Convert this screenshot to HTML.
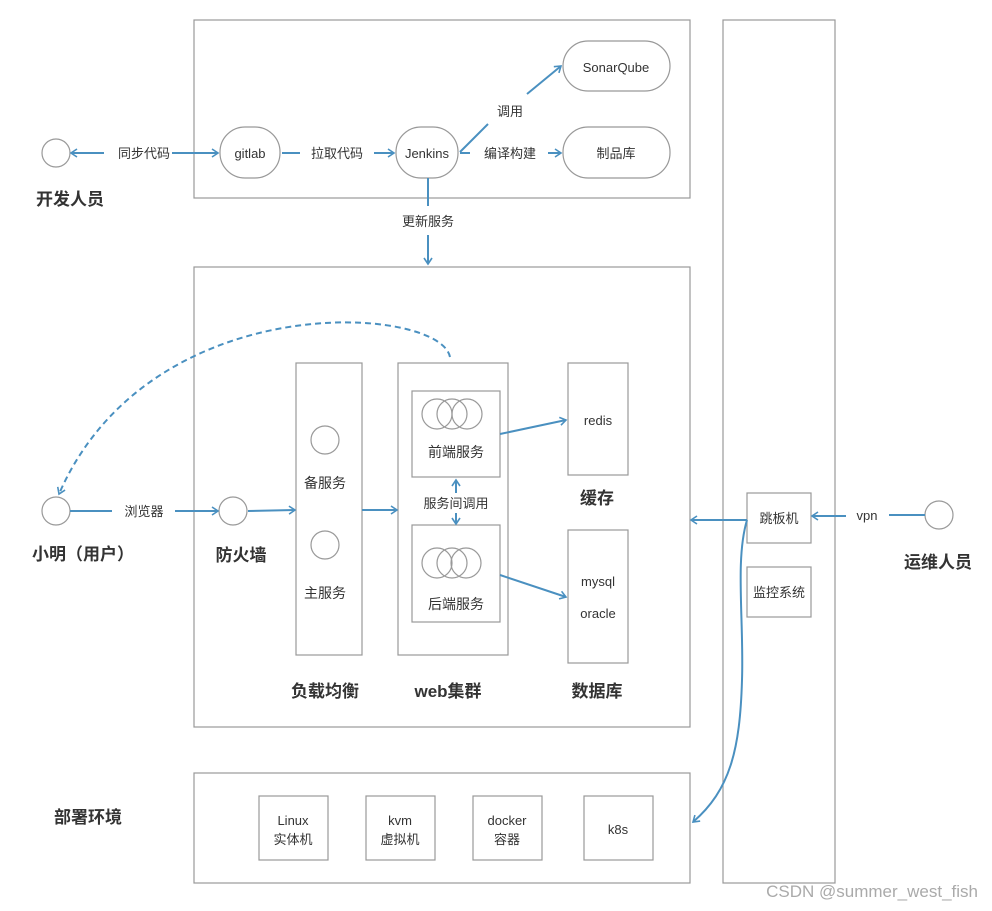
<!DOCTYPE html>
<html><head><meta charset="utf-8"><style>
html,body{margin:0;padding:0;background:#fff;}
svg{display:block;}
text{font-family:"Liberation Sans","Noto Sans CJK SC",sans-serif;fill:#333;}
.b{font-weight:bold;font-size:17px;fill:#222;}
.s{font-size:13px;}
</style></head><body>
<svg width="992" height="911" viewBox="0 0 992 911" xmlns="http://www.w3.org/2000/svg">
<defs>
<marker id="a" markerWidth="10" markerHeight="10" refX="8" refY="5" orient="auto" markerUnits="userSpaceOnUse">
<path d="M2,1 L8,5 L2,9" fill="none" stroke="#4a90c0" stroke-width="1.6"/></marker>
</defs>
<g fill="none" stroke="#999" stroke-width="1.2">
<rect x="194" y="20" width="496" height="178"/>
<rect x="194" y="267" width="496" height="460"/>
<rect x="194" y="773" width="496" height="110"/>
<rect x="723" y="20" width="112" height="863"/>
<circle cx="56" cy="153" r="14"/>
<rect x="220" y="127" width="60" height="51" rx="25"/>
<rect x="396" y="127" width="62" height="51" rx="25"/>
<rect x="563" y="41" width="107" height="50" rx="25"/>
<rect x="563" y="127" width="107" height="51" rx="25"/>
<circle cx="56" cy="511" r="14"/>
<circle cx="233" cy="511" r="14"/>
<rect x="296" y="363" width="66" height="292"/>
<circle cx="325" cy="440" r="14"/>
<circle cx="325" cy="545" r="14"/>
<rect x="398" y="363" width="110" height="292"/>
<rect x="412" y="391" width="88" height="86"/>
<rect x="412" y="525" width="88" height="97"/>
<circle cx="437" cy="414" r="15"/><circle cx="452" cy="414" r="15"/><circle cx="467" cy="414" r="15"/>
<circle cx="437" cy="563" r="15"/><circle cx="452" cy="563" r="15"/><circle cx="466" cy="563" r="15"/>
<rect x="568" y="363" width="60" height="112"/>
<rect x="568" y="530" width="60" height="133"/>
<rect x="747" y="493" width="64" height="50"/>
<rect x="747" y="567" width="64" height="50"/>
<circle cx="939" cy="515" r="14"/>
<rect x="259" y="796" width="69" height="64"/>
<rect x="366" y="796" width="69" height="64"/>
<rect x="473" y="796" width="69" height="64"/>
<rect x="584" y="796" width="69" height="64"/>
</g>
<g fill="none" stroke="#4a90c0" stroke-width="2">
<line x1="104" y1="153" x2="71" y2="153" marker-end="url(#a)"/>
<line x1="172" y1="153" x2="218" y2="153" marker-end="url(#a)"/>
<line x1="282" y1="153" x2="300" y2="153"/>
<line x1="374" y1="153" x2="394" y2="153" marker-end="url(#a)"/>
<line x1="460" y1="153" x2="470" y2="153"/>
<line x1="548" y1="153" x2="561" y2="153" marker-end="url(#a)"/>
<line x1="460" y1="152" x2="488" y2="124"/>
<line x1="527" y1="94" x2="561" y2="66" marker-end="url(#a)"/>
<line x1="428" y1="178" x2="428" y2="206"/>
<line x1="428" y1="235" x2="428" y2="264" marker-end="url(#a)"/>
<line x1="70" y1="511" x2="112" y2="511"/>
<line x1="175" y1="511" x2="218" y2="511" marker-end="url(#a)"/>
<line x1="248" y1="511" x2="295" y2="510" marker-end="url(#a)"/>
<line x1="362" y1="510" x2="397" y2="510" marker-end="url(#a)"/>
<line x1="500" y1="434" x2="566" y2="420" marker-end="url(#a)"/>
<line x1="500" y1="575" x2="566" y2="597" marker-end="url(#a)"/>
<line x1="456" y1="493" x2="456" y2="480" marker-end="url(#a)"/>
<line x1="456" y1="513" x2="456" y2="524" marker-end="url(#a)"/>
<line x1="925" y1="515" x2="889" y2="515"/>
<line x1="846" y1="516" x2="812" y2="516" marker-end="url(#a)"/>
<line x1="747" y1="520" x2="691" y2="520" marker-end="url(#a)"/>
<path d="M747,520 C735,560 744,620 742,680 C740,750 730,790 693,822" marker-end="url(#a)"/>
<path d="M450,357 C440,305 150,285 59,494" stroke-dasharray="6,4" marker-end="url(#a)"/>
</g>
<g text-anchor="middle" class="s">
<text x="144" y="158">同步代码</text>
<text x="250" y="158">gitlab</text>
<text x="337" y="158">拉取代码</text>
<text x="427" y="158">Jenkins</text>
<text x="510" y="158">编译构建</text>
<text x="616" y="72">SonarQube</text>
<text x="616" y="158">制品库</text>
<text x="510" y="116">调用</text>
<text x="428" y="226">更新服务</text>
<text x="144" y="516">浏览器</text>
<text x="325" y="488" style="font-size:14px">备服务</text>
<text x="325" y="598" style="font-size:14px">主服务</text>
<text x="456" y="457" style="font-size:14px">前端服务</text>
<text x="456" y="508">服务间调用</text>
<text x="456" y="609" style="font-size:14px">后端服务</text>
<text x="598" y="425">redis</text>
<text x="598" y="586">mysql</text>
<text x="598" y="618">oracle</text>
<text x="779" y="523">跳板机</text>
<text x="779" y="597">监控系统</text>
<text x="867" y="520">vpn</text>
<text x="293" y="825">Linux</text><text x="293" y="844">实体机</text>
<text x="400" y="825">kvm</text><text x="400" y="844">虚拟机</text>
<text x="507" y="825">docker</text><text x="507" y="844">容器</text>
<text x="618" y="834">k8s</text>
</g>
<g class="b" text-anchor="middle">
<text x="70" y="205">开发人员</text>
<text x="83" y="560">小明（用户）</text>
<text x="241" y="561">防火墙</text>
<text x="597" y="504">缓存</text>
<text x="325" y="697">负载均衡</text>
<text x="448" y="697">web集群</text>
<text x="597" y="697">数据库</text>
<text x="88" y="823">部署环境</text>
<text x="938" y="568">运维人员</text>
</g>
<text x="978" y="897" text-anchor="end" style="font-size:17px;fill:#aaa">CSDN @summer_west_fish</text>
</svg>
</body></html>
